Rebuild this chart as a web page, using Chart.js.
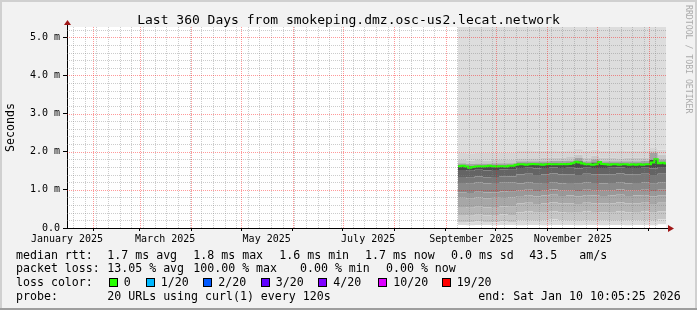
<!DOCTYPE html>
<html>
<head>
<meta charset="utf-8">
<script src="https://cdn.jsdelivr.net/npm/chart.js@4.4.1/dist/chart.umd.min.js"></script>
<style>
  html, body { margin: 0; padding: 0; background: #f2f2f2; }
</style>
</head>
<body>
<canvas id="graf" width="697" height="310"></canvas>
<script>
const MONO = '"DejaVu Sans Mono", monospace';

// ---- data ----
const graphTitle = 'Last 360 Days from smokeping.dmz.osc-us2.lecat.network';

const xLabels = ['January 2025', 'March 2025', 'May 2025', 'July 2025', 'September 2025', 'November 2025'];
const xLabelDates = ['2025-01-16', '2025-03-16', '2025-05-16', '2025-07-16', '2025-09-16', '2025-11-16'];

const yMajor = [0, 1, 2, 3, 4, 5];
const yLabels = ['0.0', '1.0 m', '2.0 m', '3.0 m', '4.0 m', '5.0 m'];

// median rtt (ms), one value every 2 days from day 235
const medStart = 235, medStep = 2;
const median = [
  1.62, 1.63, 1.61, 1.58, 1.60, 1.61, 1.62, 1.61, 1.62, 1.63, 1.62, 1.61, 1.62, 1.62, 1.61, 1.63, 1.63,
  1.66, 1.67, 1.67, 1.66, 1.67, 1.68, 1.67, 1.67, 1.66, 1.67, 1.68, 1.67, 1.67, 1.67, 1.68, 1.67, 1.68, 1.70,
  1.74, 1.72, 1.69,
  1.67, 1.67, 1.66, 1.67,
  1.73, 1.68,
  1.67, 1.66, 1.67, 1.67, 1.66, 1.67, 1.67, 1.66, 1.67, 1.66, 1.67, 1.66, 1.67, 1.67,
  1.72, 1.80, 1.70, 1.71, 1.69,
  1.70
];

// smoke band edges (ms), sorted pings, one value every 5 days from day 235
const smokeStart = 235, smokeStep = 5;
const edge0 = [0.08, 0.07, 0.08, 0.08, 0.07, 0.08, 0.08, 0.07, 0.08, 0.08, 0.07, 0.08, 0.08, 0.08, 0.07, 0.08, 0.08, 0.07, 0.08, 0.08, 0.07, 0.08, 0.08, 0.07, 0.10, 0.07];
const edge1 = [0.16, 0.15, 0.17, 0.16, 0.15, 0.17, 0.16, 0.20, 0.21, 0.19, 0.20, 0.22, 0.20, 0.21, 0.19, 0.20, 0.21, 0.20, 0.19, 0.21, 0.20, 0.20, 0.21, 0.19, 0.22, 0.20];
const edge2 = [0.34, 0.32, 0.35, 0.33, 0.34, 0.36, 0.34, 0.41, 0.43, 0.40, 0.42, 0.44, 0.41, 0.42, 0.40, 0.43, 0.42, 0.41, 0.42, 0.44, 0.41, 0.42, 0.43, 0.40, 0.44, 0.42];
const edge3 = [0.55, 0.53, 0.56, 0.54, 0.55, 0.57, 0.56, 0.64, 0.66, 0.63, 0.65, 0.67, 0.64, 0.65, 0.63, 0.66, 0.65, 0.64, 0.65, 0.67, 0.64, 0.65, 0.66, 0.63, 0.66, 0.65];
const edge4 = [0.79, 0.77, 0.80, 0.78, 0.79, 0.81, 0.80, 0.84, 0.86, 0.83, 0.85, 0.87, 0.84, 0.85, 0.83, 0.86, 0.85, 0.84, 0.85, 0.87, 0.84, 0.85, 0.86, 0.83, 0.86, 0.85];
const edge5 = [0.94, 0.92, 0.95, 0.93, 0.94, 0.96, 0.95, 0.98, 1.00, 0.97, 0.99, 1.01, 0.98, 0.99, 0.97, 1.00, 0.99, 0.98, 0.99, 1.01, 0.98, 0.99, 1.00, 0.97, 1.00, 0.99];
const edge6 = [1.18, 1.16, 1.19, 1.17, 1.18, 1.20, 1.19, 1.17, 1.19, 1.16, 1.18, 1.20, 1.17, 1.18, 1.16, 1.19, 1.18, 1.17, 1.18, 1.20, 1.17, 1.18, 1.19, 1.16, 1.19, 1.18];
const edge7 = [1.34, 1.32, 1.35, 1.33, 1.34, 1.36, 1.35, 1.40, 1.42, 1.39, 1.41, 1.43, 1.40, 1.41, 1.39, 1.42, 1.41, 1.40, 1.41, 1.43, 1.40, 1.41, 1.42, 1.39, 1.42, 1.41];
const edge8 = [1.52, 1.50, 1.53, 1.51, 1.52, 1.54, 1.53, 1.57, 1.58, 1.56, 1.57, 1.59, 1.57, 1.58, 1.56, 1.58, 1.57, 1.57, 1.58, 1.59, 1.57, 1.57, 1.58, 1.56, 1.60, 1.58];
const edge9 = [1.64, 1.62, 1.63, 1.63, 1.64, 1.64, 1.64, 1.69, 1.69, 1.69, 1.69, 1.70, 1.69, 1.71, 1.75, 1.69, 1.72, 1.69, 1.69, 1.69, 1.68, 1.69, 1.69, 1.78, 1.71, 1.71];
const edge10 = [1.70, 1.68, 1.69, 1.69, 1.70, 1.70, 1.70, 1.75, 1.75, 1.75, 1.75, 1.76, 1.76, 1.77, 1.84, 1.75, 1.80, 1.75, 1.75, 1.75, 1.75, 1.75, 1.76, 1.97, 1.80, 1.80];
const edge11 = [1.78, 1.77, 1.78, 1.77, 1.78, 1.78, 1.79, 1.83, 1.83, 1.83, 1.84, 1.85, 1.84, 1.86, 1.93, 1.84, 1.90, 1.84, 1.84, 1.83, 1.84, 1.84, 1.85, 2.02, 1.92, 1.92];
const edge12 = [1.97, 1.96, 1.97, 1.97, 1.98, 1.97, 1.98, 2.02, 2.02, 2.03, 2.03, 2.04, 2.03, 2.04, 2.08, 2.03, 2.06, 2.03, 2.03, 2.02, 2.03, 2.03, 2.04, 2.10, 2.06, 2.06];

// legend texts
const rttStats = ['1.7 ms avg', '1.8 ms max', '1.6 ms min', '1.7 ms now', '0.0 ms sd', '43.5', 'am/s'];
const lossStats = ['13.05 % avg', '100.00 % max', '0.00 % min', '0.00 % now'];
const lossLabels = ['0', '1/20', '2/20', '3/20', '4/20', '10/20', '19/20'];
const lossColors = ['#26ff00', '#00b8ff', '#0059ff', '#5e00ff', '#7e00ff', '#dd00ff', '#ff0000'];
const probeText = '20 URLs using curl(1) every 120s';
const endText = 'end: Sat Jan 10 10:05:25 2026';

// ---- styles ----
const bandColors = ['#dadada', '#c6c6c6', '#b6b6b6', '#a7a7a7', '#999999', '#898989', '#787878',
                    '#646464', '#4a4a4a', '#a4a4a4', '#c8c8c8', '#d5d5d5'];
const topBand = '#dddddd';
const majorGrid = 'rgba(255,0,0,0.4)';
const minorGrid = 'rgba(128,128,128,0.4)';

// ---- time axis (days since graph start) ----
const startMs = Date.UTC(2025, 0, 16, 8, 0, 0);
const DAY = 86400000;
const spanDays = 360;
const toDay = ms => (ms - startMs) / DAY;

const xKind = new Map();
// mondays -> minor grid
for (let t = Date.UTC(2025, 0, 20); toDay(t) < spanDays; t += 7 * DAY) xKind.set(toDay(t), 'minor');
// first of month -> major grid
for (let m = 1; m <= 12; m++) xKind.set(toDay(Date.UTC(2025, m, 1)), 'major');
// label positions
const xLabelAt = new Map();
xLabelDates.forEach((d, i) => {
  const v = Math.max(0, toDay(Date.parse(d + 'T08:00:00Z')));
  xLabelAt.set(v, xLabels[i]);
  if (!xKind.has(v)) xKind.set(v, 'label');
});
const xTickList = [...xKind.keys()].sort((a, b) => a - b);

const yTickList = [];
for (let i = 0; i <= 26; i++) yTickList.push(i / 5);

// ---- datasets ----
const datasets = [{
  label: 'median rtt',
  data: median.map((v, i) => ({ x: Math.min(medStart + i * medStep, spanDays), y: v })),
  borderColor: lossColors[0],
  borderWidth: 2,
  stepped: true,
  pointRadius: 0,
  fill: false
}];

const smokeEdges = [edge0, edge1, edge2, edge3, edge4, edge5, edge6, edge7, edge8, edge9, edge10, edge11, edge12];
const smokePts = edge => edge.map((v, i) => ({ x: smokeStart + i * smokeStep, y: v }));

smokeEdges.forEach((edge, k) => {
  datasets.push({
    data: smokePts(edge),
    borderWidth: 0,
    borderColor: 'transparent',
    pointRadius: 0,
    stepped: true,
    fill: k === 0 ? false : '-1',
    backgroundColor: k === 0 ? 'transparent' : bandColors[k - 1]
  });
});
// everything above the last edge is off the scale
datasets.push({
  data: smokePts(edge12),
  borderWidth: 0,
  borderColor: 'transparent',
  pointRadius: 0,
  stepped: true,
  fill: 'end',
  backgroundColor: topBand
});

// ---- drawing helpers ----
const frame = {
  id: 'frame',
  beforeDraw(chart) {
    const { ctx, width, height, chartArea: a } = chart;
    ctx.save();
    ctx.fillStyle = '#f2f2f2';
    ctx.fillRect(0, 0, width, height);
    ctx.fillStyle = '#d0d0d0';
    ctx.fillRect(0, 0, width, 2);
    ctx.fillRect(0, 0, 2, height);
    ctx.fillRect(width - 2, 0, 2, height);
    ctx.fillStyle = '#9e9e9e';
    ctx.fillRect(0, height - 2, width, 2);
    ctx.fillStyle = '#ffffff';
    ctx.fillRect(a.left, a.top, a.right - a.left, a.bottom - a.top);
    ctx.restore();
  },
  // dotted rrdtool grid, laid over the smoke
  afterDatasetsDraw(chart) {
    const { ctx, chartArea: a, scales } = chart;
    ctx.save();
    ctx.beginPath();
    ctx.rect(a.left, a.top, a.right - a.left, a.bottom - a.top);
    ctx.clip();
    ctx.lineWidth = 1;
    ctx.setLineDash([1, 1]);
    const vline = v => {
      const px = Math.round(scales.x.getPixelForValue(v)) + 0.5;
      ctx.moveTo(px, a.top); ctx.lineTo(px, a.bottom);
    };
    const hline = v => {
      const py = Math.round(scales.y.getPixelForValue(v)) + 0.5;
      ctx.moveTo(a.left, py); ctx.lineTo(a.right, py);
    };
    ctx.strokeStyle = minorGrid;
    ctx.beginPath();
    xTickList.filter(v => xKind.get(v) === 'minor').forEach(vline);
    yTickList.filter(v => !yMajor.includes(v)).forEach(hline);
    ctx.stroke();
    ctx.strokeStyle = majorGrid;
    ctx.beginPath();
    xTickList.filter(v => xKind.get(v) === 'major').forEach(vline);
    yMajor.filter(v => v > 0).forEach(hline);
    ctx.stroke();
    ctx.restore();
  },
  afterDraw(chart) {
    const { ctx, width, chartArea: a } = chart;
    ctx.save();

    // title, centred on the whole image
    ctx.font = '13px ' + MONO;
    ctx.fillStyle = '#000';
    ctx.textAlign = 'center';
    ctx.textBaseline = 'alphabetic';
    ctx.fillText(graphTitle, width / 2, 23.5);
    ctx.textAlign = 'left';

    // axis ends + arrows
    ctx.strokeStyle = '#000';
    ctx.lineWidth = 1;
    ctx.beginPath();
    ctx.moveTo(a.right, a.bottom + 0.5);
    ctx.lineTo(a.right + 3, a.bottom + 0.5);
    ctx.moveTo(a.left + 0.5, a.top);
    ctx.lineTo(a.left + 0.5, a.top - 2);
    ctx.stroke();
    ctx.fillStyle = '#a01818';
    ctx.beginPath();
    ctx.moveTo(a.right + 2, a.bottom - 3);
    ctx.lineTo(a.right + 2, a.bottom + 4);
    ctx.lineTo(a.right + 8, a.bottom + 0.5);
    ctx.closePath();
    ctx.fill();
    ctx.beginPath();
    ctx.moveTo(a.left - 3, a.top - 2);
    ctx.lineTo(a.left + 4, a.top - 2);
    ctx.lineTo(a.left + 0.5, a.top - 7);
    ctx.closePath();
    ctx.fill();

    // watermark
    ctx.save();
    ctx.translate(688, 5);
    ctx.rotate(Math.PI / 2);
    ctx.font = '8.2px ' + MONO;
    ctx.fillStyle = '#ababab';
    ctx.textBaseline = 'middle';
    ctx.fillText('RRDTOOL / TOBI OETIKER', 0, 0);
    ctx.restore();

    // legend
    ctx.font = '11.6px ' + MONO;
    ctx.fillStyle = '#000';
    ctx.textBaseline = 'alphabetic';
    const rows = [258.5, 272.3, 286.2, 300.2];
    ctx.fillText('median rtt:', 16, rows[0]);
    [107.3, 193.3, 279.3, 365, 451, 529.3, 579.3].forEach((x, i) => ctx.fillText(rttStats[i], x, rows[0]));
    ctx.fillText('packet loss:', 16, rows[1]);
    [107.3, 193.3, 300, 386].forEach((x, i) => ctx.fillText(lossStats[i], x, rows[1]));
    ctx.fillText('loss color:', 16, rows[2]);
    [108.7, 145.7, 203.3, 260.7, 318.3, 378.3, 441.7].forEach((x, i) => {
      const bx = Math.round(x) + 0.5;
      ctx.fillStyle = lossColors[i];
      ctx.fillRect(bx, 278.5, 8, 8);
      ctx.strokeStyle = '#000';
      ctx.strokeRect(bx, 278.5, 8, 8);
      ctx.fillStyle = '#000';
      ctx.fillText(lossLabels[i], x + 15, rows[2]);
    });
    ctx.fillText('probe:', 16, rows[3]);
    ctx.fillText(probeText, 107.3, rows[3]);
    ctx.fillText(endText, 478.3, rows[3]);
    ctx.restore();
  }
};

Chart.defaults.font.family = MONO;
Chart.defaults.color = '#000';

new Chart(document.getElementById('graf'), {
  type: 'line',
  data: { datasets },
  options: {
    responsive: false,
    animation: false,
    events: [],
    layout: { padding: { left: 0, right: 31, top: 27, bottom: 0 } },
    scales: {
      x: {
        type: 'linear',
        min: 0,
        max: spanDays,
        afterBuildTicks: s => { s.ticks = xTickList.map(v => ({ value: v })); },
        afterFit: s => { s.height = 82; },
        ticks: {
          autoSkip: false,
          maxRotation: 0,
          minRotation: 0,
          padding: 2,
          font: { size: 10 },
          callback: v => xLabelAt.get(v) || ''
        },
        grid: {
          drawOnChartArea: false,
          tickLength: 3,
          tickColor: c => xKind.get(c.tick.value) === 'major' ? '#000' : 'transparent'
        },
        border: { display: true, color: '#000', width: 1 }
      },
      y: {
        type: 'linear',
        min: 0,
        max: 5.27,
        afterBuildTicks: s => { s.ticks = yTickList.map(v => ({ value: v })); },
        afterFit: s => { s.width = 67; },
        title: {
          display: true,
          text: 'Seconds',
          font: { size: 11.6 },
          padding: { top: 4, bottom: 0 }
        },
        ticks: {
          autoSkip: false,
          padding: 3,
          font: { size: 10 },
          callback: v => {
            const i = yMajor.indexOf(v);
            return i >= 0 ? yLabels[i] : '';
          }
        },
        grid: {
          drawOnChartArea: false,
          tickLength: 4,
          tickColor: c => yMajor.includes(c.tick.value) ? '#000' : 'transparent'
        },
        border: { display: true, color: '#000', width: 1 }
      }
    },
    plugins: {
      legend: { display: false },
      tooltip: { enabled: false },
      title: { display: false }
    }
  },
  plugins: [frame]
});
</script>
</body>
</html>
